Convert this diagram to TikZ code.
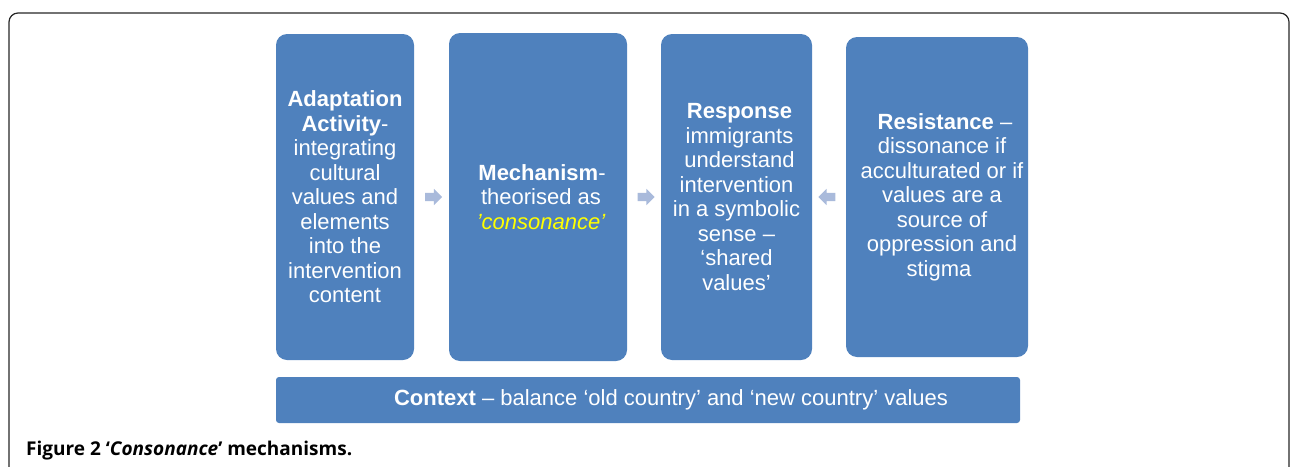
\documentclass[tikz,border=0pt]{standalone}
\usepackage{fontspec}
\setmainfont{Liberation Sans}
\newfontfamily\capfont{Open Sans}
\usetikzlibrary{positioning}
\usetikzlibrary{calc}
\usetikzlibrary{shapes.arrows}
\definecolor{boxblue}{HTML}{4F81BD}
\definecolor{arrowblue}{HTML}{A9BADB}
\definecolor{consyellow}{HTML}{FFFF00}

\begin{document}
\begin{tikzpicture}[x=1pt, y=-1pt,
    stagebox/.style={fill=boxblue, rounded corners=11pt, inner sep=0pt, align=center,
      text=white, font=\fontsize{22}{24.5}\selectfont},
    ctxbox/.style={fill=boxblue, rounded corners=3pt, inner sep=0pt,
      minimum width=744pt, minimum height=46pt},
    flowarrow/.style={single arrow, fill=arrowblue, inner xsep=0pt, inner ysep=4pt,
      minimum height=17pt, single arrow head extend=4pt}]
      \useasboundingbox (0, 0) rectangle (1290, 466);
      \draw[line width=1.2pt, black!85, rounded corners=9pt] (9, 13) rectangle (1289, 520);
      \node[stagebox, minimum width=138pt, minimum height=326pt] (act) at (345, 197)
        {\textbf{Adaptation}\\\textbf{Activity}-\\integrating\\cultural\\values and\\elements\\into the\\intervention\\content};
      \node[stagebox, minimum width=178pt, minimum height=328pt] (mech) at (538, 197)
        {\hspace*{8pt}\textbf{Mechanism}-\\\hspace*{6pt}theorised as\\\hspace*{6pt}\textcolor{consyellow}{\itshape ’consonance’}};
      \node[stagebox, minimum width=151pt, minimum height=326pt] (resp) at (736.5, 197)
        {\hspace*{6pt}\textbf{Response}\\\hspace*{6pt}immigrants\\\hspace*{6pt}understand\\intervention\\in a symbolic\\sense --\\‘shared\\values’};
      \node[stagebox, minimum width=182pt, minimum height=320pt] (resist) at (937, 197)
        {\hspace*{16pt}\textbf{Resistance} --\\\hspace*{10pt}dissonance if\\\hspace*{10pt}acculturated or if\\\hspace*{10pt}values are a\\\hspace*{10pt}source of\\\hspace*{10pt}oppression and\\\hspace*{4pt}stigma};
      \foreach \a/\b/\dir in {act/mech/0, mech/resp/0, resp/resist/180} {
        \node[flowarrow, shape border rotate=\dir] (arr\a) at ($(\a.east)!0.5!(\b.west)$) {};
      }
      \node[ctxbox] (ctx) at (648, 400) {};
      \node[text=white, font=\fontsize{22}{24}\selectfont] (ctxtext) at ([xshift=23pt]ctx.center)
        {\textbf{Context} -- balance ‘old country’ and ‘new country’ values};
      \node[anchor=base west, inner sep=0pt, font=\capfont\bfseries\fontsize{19}{22}\selectfont] (caption) at (26, 455)
        {Figure 2 ‘\textit{Consonance}’ mechanisms.};
    \end{tikzpicture}
\end{document}
